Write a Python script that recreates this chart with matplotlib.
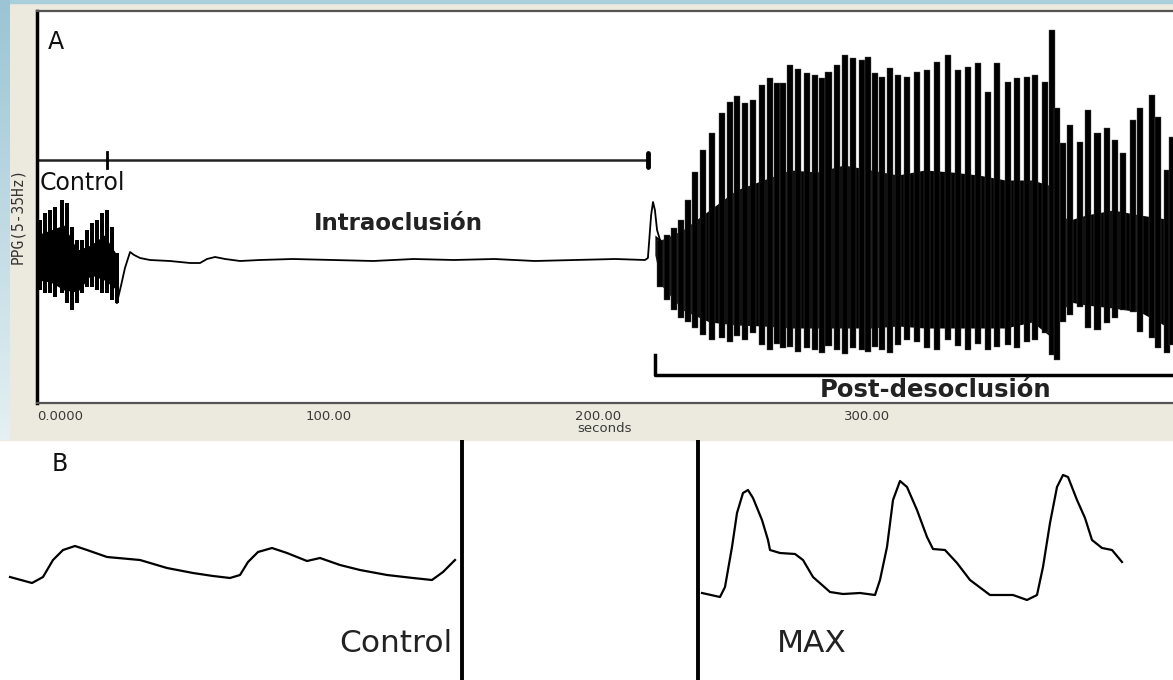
import numpy as np
import matplotlib
matplotlib.use("Agg")
import matplotlib.pyplot as plt
from matplotlib.patches import Rectangle

plt.rcParams['font.family'] = ['DejaVu Sans']

# ---- panel A: PPG trace (time in s, amplitude offset from baseline) ----
ctrl_t = [1.1, 3.0, 4.8, 6.7, 9.3, 11.2, 13.0, 14.9, 16.7, 18.6, 20.4, 22.3, 24.2, 26.0, 27.9, 29.7]
ctrl_top = [40, 47, 50, 53, 60, 57, 33, 20, 20, 30, 37, 40, 47, 50, 33, 7]
ctrl_bot = [-30, -33, -33, -37, -33, -43, -50, -43, -33, -27, -27, -30, -33, -33, -40, -43]
ctrl_core_t = [0, 5, 10, 15, 20, 25, 29.7]
ctrl_core_hi = [25, 30, 35, 10, 15, 25, 5]
ctrl_core_lo = [-20, -22, -30, -32, -15, -20, -30]

occl_t = [29.7, 31.2, 32.7, 34.6, 36.1, 38.3, 42.0, 49.4, 56.9, 60.6, 63.2, 66.2, 69.9, 75.5,
          82.9, 95, 110, 125, 140, 155, 170, 185, 200, 215, 226.0, 227.1, 228.3, 229.0,
          229.7, 230.5, 231.6]
occl_y = [-43, -26, -8, 8, 5, 2, 0, -1, -3, -3, 1, 3, 1, -1,
          0, 1, 0, -1, 1, 0, 1, -1, 0, 1, 0, 2, 45, 58,
          50, 30, 20]

post_t = [231.6, 234.2, 236.8, 239.4, 242.0, 244.6, 247.6, 250.9, 254.6, 257.6, 260.2, 263.2,
          266.2, 269.5, 272.5, 275.1, 277.3, 279.9, 282.9, 286.2, 289.2, 291.8, 294.1, 297.4,
          300.4, 303.3, 306.7, 308.9, 311.5, 314.1, 317.1, 320.1, 323.4, 327.1, 330.9, 334.6,
          338.7, 342.4, 346.1, 349.8, 353.5, 356.9, 361.0, 364.3, 368.0, 371.0, 374.7, 377.3,
          379.2, 381.4, 384.0, 387.7, 390.7, 394.1, 397.8, 400.7, 403.7, 407.4, 410.0, 414.5,
          416.7, 420.1, 421.9]
post_top = [20, 25, 32, 40, 60, 88, 110, 127, 147, 158, 164, 157,
            160, 175, 182, 177, 177, 195, 191, 187, 185, 182, 188, 195,
            205, 202, 200, 203, 187, 183, 192, 185, 183, 188, 190, 198,
            205, 190, 193, 197, 168, 197, 178, 182, 183, 185, 178, 230,
            152, 117, 135, 118, 150, 127, 132, 120, 107, 140, 152, 165,
            143, 90, 123]
post_bot = [-27, -40, -50, -58, -62, -68, -75, -80, -78, -82, -76, -80,
            -73, -85, -90, -84, -88, -87, -92, -88, -90, -93, -86, -90,
            -94, -88, -90, -92, -87, -90, -93, -85, -80, -82, -88, -90,
            -80, -86, -90, -84, -90, -87, -85, -88, -82, -80, -73, -95,
            -100, -62, -55, -47, -68, -70, -63, -58, -50, -52, -72, -78,
            -88, -93, -85]
post_core_t = [229.7, 232, 240, 250, 260, 270, 280, 290, 300, 310, 320, 330, 340, 350,
               360, 370, 376, 380, 384, 390, 400, 410, 422.3]
post_core_hi = [25, 20, 30, 50, 70, 80, 90, 88, 95, 90, 85, 90, 88, 85,
                80, 80, 75, 45, 40, 45, 50, 45, 40]
post_core_lo = [5, -25, -50, -62, -65, -66, -68, -68, -68, -68, -66, -68, -68, -68,
                -68, -62, -75, -55, -42, -45, -48, -52, -70]

xtick_pos = [0, 100, 200, 300]
xtick_lab = ["0.0000", "100.00", "200.00", "300.00"]
mark_start, mark_ctrl, mark_end = 0, 26.0, 227.1
post_start = 229.7

# ---- panel B: single beats (sample, amplitude) ----
bc_x = [10, 32, 43, 53, 63, 75, 87, 107, 140, 167, 193, 213, 230, 240, 248, 258, 272, 287,
        307, 320, 340, 360, 387, 413, 432, 443, 455]
bc_y = [103, 97, 103, 120, 130, 134, 130, 123, 120, 112, 107, 104, 102, 105, 118, 128, 132, 127,
        119, 122, 115, 110, 105, 102, 100, 108, 120]
bm_x = [702, 720, 725, 732, 737, 743, 748, 753, 762, 768, 770, 780, 795, 803, 813, 830, 843,
        860, 875, 880, 887, 893, 900, 907, 917, 927, 933, 945, 957, 970, 990, 1013, 1027,
        1037, 1043, 1050, 1057, 1063, 1068, 1077, 1085, 1092, 1102, 1112, 1122]
bm_y = [87, 83, 93, 133, 167, 187, 190, 182, 160, 140, 130, 127, 126, 120, 103, 88, 86,
        87, 85, 100, 133, 180, 199, 193, 170, 143, 131, 130, 117, 100, 85, 85, 80,
        85, 113, 157, 193, 205, 203, 180, 162, 140, 132, 130, 118]
sep_b = [462, 698]

W, H = 1173, 680
fig = plt.figure(figsize=(W / 100, H / 100), dpi=100, facecolor='white')


def box(px0, py0, px1, py1):
    return [px0 / W, 1 - py1 / H, (px1 - px0) / W, (py1 - py0) / H]


# window frame (drawn behind the axes)
fig.patches.append(Rectangle((0, 1 - 440 / H), 1, 440 / H, transform=fig.transFigure,
                             color='#ECE9DE', zorder=-10))
fig.patches.append(Rectangle((0, 1 - 3 / H), 1, 3 / H, transform=fig.transFigure,
                             color='#A9CFDB', zorder=-9))
gax = fig.add_axes(box(0, 0, 10, 440))
gax.imshow(np.linspace(0, 1, 100).reshape(-1, 1), cmap=matplotlib.colors.LinearSegmentedColormap.from_list(
    'g', ['#9CC4D4', '#E4F0F4']), aspect='auto')
gax.axis('off')

ax = fig.add_axes(box(37, 11, 1173, 403))
ax.set_xlim(0, 422.3)
ax.set_ylim(-143, 249)
ax.set_facecolor('white')

ax.fill_between(ctrl_core_t, ctrl_core_lo, ctrl_core_hi, color='black', lw=0)
ax.bar(ctrl_t, np.subtract(ctrl_top, ctrl_bot), bottom=ctrl_bot, width=1.5, color='black', lw=0)
ax.plot(occl_t, occl_y, color='black', lw=1.3)
ax.fill_between(post_core_t, post_core_lo, post_core_hi, color='black', lw=0)
ax.bar(post_t, np.subtract(post_top, post_bot), bottom=post_bot, width=2.5, color='black',
       edgecolor='#555555', lw=0.3)

# occlusion markers
ax.plot([mark_start, mark_end], [100, 100], color='#222222', lw=1.8)
ax.plot([mark_ctrl, mark_ctrl], [92, 108], color='black', lw=2)
ax.plot([mark_end, mark_end], [93, 107], color='black', lw=3.5, solid_capstyle='round')
ax.plot([post_start, post_start, 422.3], [-95, -115, -115], color='black', lw=2.5)

ax.text(4, 218, "A", fontsize=17, va='center', ha='left', color='#111111')
ax.text(1, 77, "Control", fontsize=17, va='center', ha='left', color='#111111')
ax.text(103, 36, "Intraoclusión", fontsize=16.5, fontweight='bold', va='center', ha='left',
        color='#222222')
ax.text(291, -130, "Post-desoclusión", fontsize=17.5, fontweight='bold', va='center', ha='left',
        color='#222222')

for s in ['top', 'bottom']:
    ax.spines[s].set_color('#555555')
    ax.spines[s].set_linewidth(1.6)
ax.spines['left'].set_color('black')
ax.spines['left'].set_linewidth(2.5)
ax.spines['right'].set_visible(False)
ax.set_xticks(xtick_pos)
ax.set_xticklabels(xtick_lab, ha='left')
ax.set_yticks([])
ax.tick_params(axis='x', length=0, labelsize=9.5, labelcolor='#3a3a3a', pad=5)
ax.set_xlabel("seconds", fontsize=9.5, color='#3a3a3a', labelpad=-1)
fig.text(18 / W, 1 - 216 / H, "PPG(5-35Hz)", rotation=90, fontsize=10.5, family='DejaVu Sans Mono',
         color='#333333', ha='center', va='center')

# panel B
bx = fig.add_axes(box(0, 440, 1173, 680))
bx.set_xlim(0, 1173)
bx.set_ylim(0, 240)
bx.axis('off')
bx.plot(bc_x, bc_y, color='black', lw=1.6)
bx.plot(bm_x, bm_y, color='black', lw=1.6)
for xs in sep_b:
    bx.axvline(xs, color='black', lw=2.8)
bx.text(52, 216, "B", fontsize=17, va='center', ha='left', color='#111111')
bx.text(452, 37, "Control", fontsize=22.5, va='center', ha='right', color='#222222')
bx.text(777, 37, "MAX", fontsize=22.5, va='center', ha='left', color='#222222')

fig.savefig("out.png", dpi=100, facecolor='white')
